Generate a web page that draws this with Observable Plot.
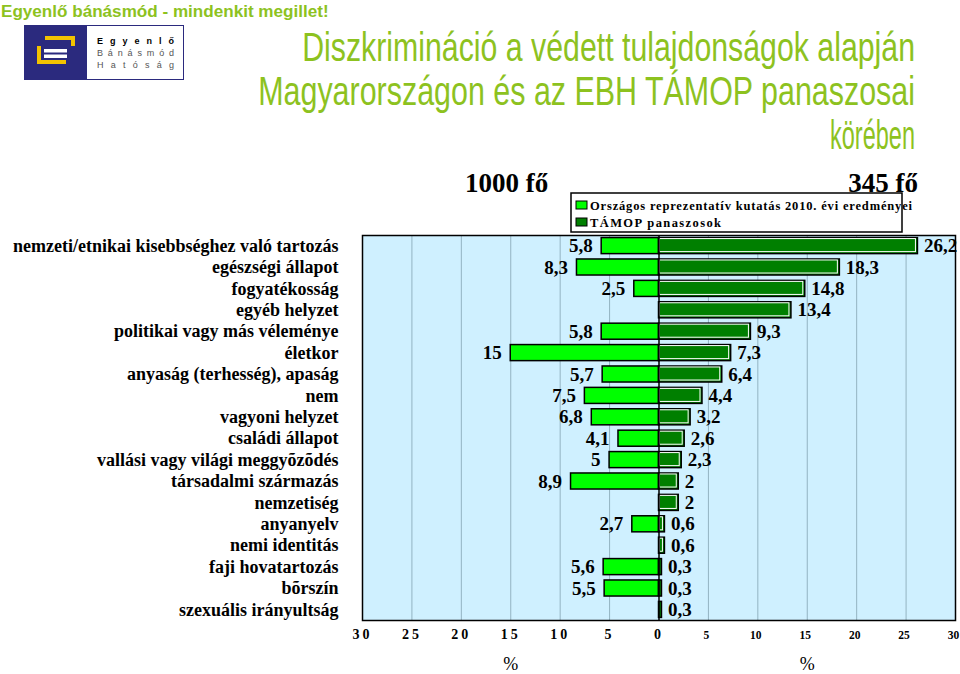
<!DOCTYPE html>
<html>
<head>
<meta charset="utf-8">
<script src="https://cdn.jsdelivr.net/npm/d3@7"></script>
<script src="https://cdn.jsdelivr.net/npm/@observablehq/plot@0.6"></script>
<style>
  html, body { margin: 0; padding: 0; background: #fff; }
  #wrap { position: relative; width: 960px; height: 674px; overflow: hidden; }
  #overlay { position: absolute; left: 0; top: 0; pointer-events: none; }
  g[font-size="14"] text { letter-spacing: 3px; }
</style>
</head>
<body>
<div id="wrap"></div>
<script>
const categories = [
  "nemzeti/etnikai kisebbséghez való tartozás",
  "egészségi állapot",
  "fogyatékosság",
  "egyéb helyzet",
  "politikai vagy más véleménye",
  "életkor",
  "anyaság (terhesség), apaság",
  "nem",
  "vagyoni helyzet",
  "családi állapot",
  "vallási vagy világi meggyõzõdés",
  "társadalmi származás",
  "nemzetiség",
  "anyanyelv",
  "nemi identitás",
  "faji hovatartozás",
  "bõrszín",
  "szexuális irányultság"
];
const orszagos = [5.8, 8.3, 2.5, null, 5.8, 15, 5.7, 7.5, 6.8, 4.1, 5, 8.9, null, 2.7, null, 5.6, 5.5, null];
const tamop = [26.2, 18.3, 14.8, 13.4, 9.3, 7.3, 6.4, 4.4, 3.2, 2.6, 2.3, 2, 2, 0.6, 0.6, 0.3, 0.3, 0.3];
const leftTicks = [30, 25, 20, 15, 10, 5, 0];
const rightTicks = [5, 10, 15, 20, 25, 30];
const gridValues = [-25, -20, -15, -10, -5, 5, 10, 15, 20, 25];
const seriesNames = ["Országos reprezentatív kutatás 2010. évi eredményei", "TÁMOP panaszosok"];
const groupLabels = ["1000 fő", "345 fő"];
const titleText = ["Diszkrimináció a védett tulajdonságok alapján", "Magyarországon és az EBH TÁMOP panaszosai", "körében"];
const sloganText = "Egyenlő bánásmód - mindenkit megillet!";
const logoWords = ["Egyenlő", "Bánásmód", "Hatóság"];

const lightGreen = "#00FF00";
const darkGreen = "#007F00";
const fmt = v => String(v).replace(".", ",");

const orszRows = categories.map((c, i) => ({cat: c, v: orszagos[i]})).filter(d => d.v != null);
const tamopRows = categories.map((c, i) => ({cat: c, v: tamop[i]}));

const serif = "'Liberation Serif', 'Times New Roman', serif";

const chart = Plot.plot({
  width: 960,
  height: 674,
  marginLeft: 362,
  marginRight: 5,
  marginTop: 235,
  marginBottom: 54,
  style: {fontFamily: serif, background: "transparent", color: "#000"},
  x: {domain: [-30, 30]},
  y: {domain: categories, paddingInner: 0.25, paddingOuter: 0.12, round: false},
  marks: [
    Plot.frame({fill: "#CFF0FF", stroke: null}),
    Plot.ruleX(gridValues, {stroke: "#93B3C2", strokeWidth: 1}),
    Plot.barX(orszRows, {y: "cat", x1: d => -d.v, x2: 0, fill: lightGreen, stroke: "#000", strokeWidth: 1.5}),
    Plot.barX(tamopRows, {y: "cat", x1: 0, x2: "v", fill: darkGreen, stroke: "#000", strokeWidth: 1.5}),
    Plot.barX(tamopRows, {y: "cat", x1: 0, x2: "v", fill: "none", stroke: "#fff", strokeWidth: 1, insetRight: 2, insetBottom: 2, insetTop: 1, insetLeft: 1}),
    Plot.ruleX([0], {stroke: "#000", strokeWidth: 1.5}),
    Plot.text(orszRows, {y: "cat", x: d => -d.v, text: d => fmt(d.v), textAnchor: "end", dx: -9, fontSize: 19, fontWeight: "bold"}),
    Plot.text(tamopRows, {y: "cat", x: "v", text: d => fmt(d.v), textAnchor: "start", dx: 6, fontSize: 19, fontWeight: "bold"}),
    Plot.axisY({tickSize: 0, tickPadding: 24, fontSize: 18, fontWeight: "bold", label: null}),
    Plot.axisX(leftTicks.map(d => -d), {tickSize: 0, tickPadding: 9, tickFormat: d => String(Math.abs(d)), fontSize: 14, fontWeight: "bold", label: null}),
    Plot.axisX(rightTicks, {tickSize: 0, tickPadding: 10, dx: -2, fontSize: 11.5, fontWeight: "bold", label: null}),
    Plot.text(["%", "%"], {x: [-15, 15], frameAnchor: "bottom", dy: 44, fontSize: 18, lineAnchor: "middle"}),
    Plot.frame({stroke: "#000", strokeWidth: 1.5})
  ]
});
document.getElementById("wrap").appendChild(chart);

// header overlay: slogan, logo, title, group labels, legend
const ov = d3.select("#wrap").append("svg")
  .attr("id", "overlay").attr("width", 960).attr("height", 674).attr("xmlns", "http://www.w3.org/2000/svg");

// fit a text horizontally to a target width with a scale transform
function fitText(sel, x, y, targetW, anchor) {
  const natural = sel.node().getComputedTextLength();
  const s = natural > 0 ? targetW / natural : 1;
  sel.attr("x", 0).attr("y", 0).attr("text-anchor", anchor)
    .attr("transform", `translate(${x},${y}) scale(${s},1)`);
}

const slogan = ov.append("text")
  .attr("font-family", "'Liberation Sans', Arial, sans-serif").attr("font-weight", "bold")
  .attr("font-size", 16).attr("fill", "#8DC21F").text(sloganText);
fitText(slogan, 1, 17, 328, "start");

// logo
const logo = ov.append("g");
logo.append("rect").attr("x", 24.5).attr("y", 25.5).attr("width", 159).attr("height", 54).attr("fill", "#fff").attr("stroke", "#2B2A7E").attr("stroke-width", 1);
logo.append("rect").attr("x", 24).attr("y", 25).attr("width", 63).attr("height", 55).attr("fill", "#2B2A7E");
logo.append("path").attr("d", "M45,36 H75 V46 H71 V40 H45 Z").attr("fill", "#F3C300");
logo.append("path").attr("d", "M37,46 H41 V60 H66 V64 H37 Z").attr("fill", "#F3C300");
logo.append("rect").attr("x", 44).attr("y", 49).attr("width", 23).attr("height", 3.5).attr("fill", "#fff");
logo.append("rect").attr("x", 44).attr("y", 54.5).attr("width", 23).attr("height", 3.5).attr("fill", "#fff");
const logoStyle = [[44, "bold", "#000"], [56, "normal", "#555"], [68, "normal", "#555"]];
logoWords.forEach((t, i) => {
  const [y, w, c] = logoStyle[i];
  logo.append("text").attr("x", 97).attr("y", y).attr("font-family", "'Liberation Sans', Arial, sans-serif")
    .attr("font-size", 9).attr("font-weight", w).attr("fill", c)
    .attr("textLength", 77).attr("lengthAdjust", "spacing").text(t);
});

// title
const titleLayout = [[61, 613], [105, 657], [149, 85]];
titleText.forEach((t, i) => {
  const [y, w] = titleLayout[i];
  const el = ov.append("text")
    .attr("font-family", "'Liberation Sans', Arial, sans-serif")
    .attr("font-size", 40).attr("fill", "#8DC21F").text(t);
  fitText(el, 915, y, w, "end");
});

// group labels
ov.append("text").attr("x", 465).attr("y", 192).attr("font-family", serif).attr("font-weight", "bold")
  .attr("font-size", 27).attr("fill", "#000").text(groupLabels[0]);
ov.append("text").attr("x", 918).attr("y", 192).attr("text-anchor", "end").attr("font-family", serif).attr("font-weight", "bold")
  .attr("font-size", 27).attr("fill", "#000").text(groupLabels[1]);

// legend
const lg = ov.append("g");
lg.append("rect").attr("x", 571).attr("y", 193).attr("width", 331).attr("height", 39).attr("fill", "#fff").attr("stroke", "#000").attr("stroke-width", 1.5);
[[lightGreen, 210, 322], [darkGreen, 227, 131]].forEach(([col, y, w], i) => {
  lg.append("rect").attr("x", 576).attr("y", y - 9).attr("width", 11).attr("height", 8).attr("fill", col).attr("stroke", "#000").attr("stroke-width", 1);
  lg.append("text").attr("x", 590).attr("y", y).attr("font-family", serif).attr("font-weight", "bold")
    .attr("font-size", 12.5).attr("fill", "#000")
    .attr("textLength", w).attr("lengthAdjust", "spacing").text(seriesNames[i]);
});
</script>
</body>
</html>
